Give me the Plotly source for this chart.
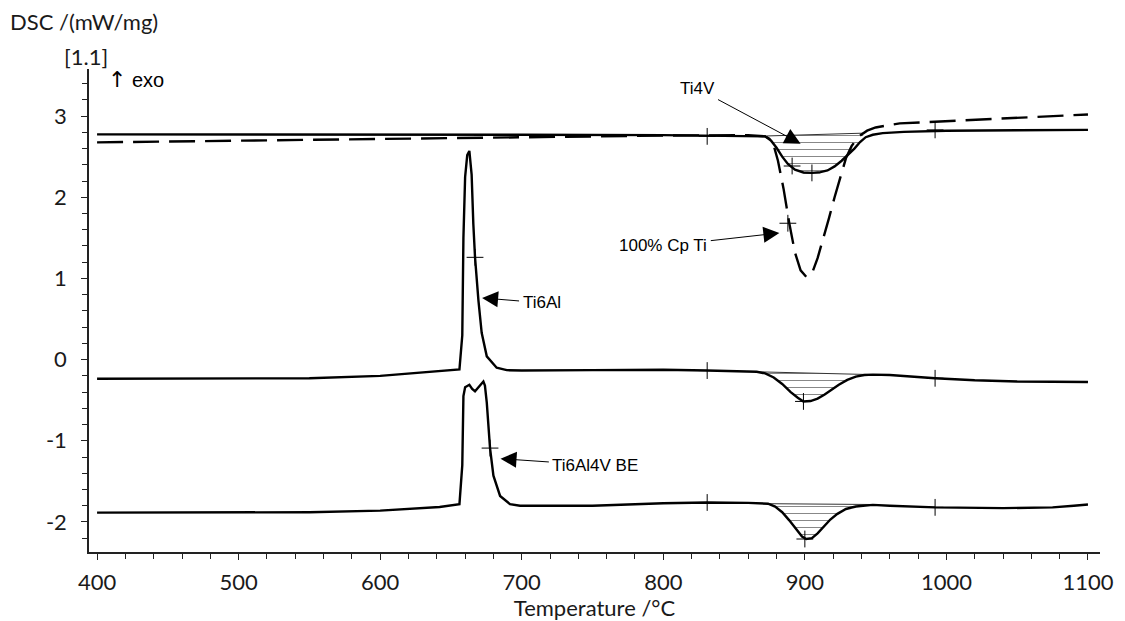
import plotly.graph_objects as go

# ---------------- data ----------------
# Ti4V (solid, top)
ti4v_T = [400, 500, 600, 700, 800, 850, 865, 872, 876, 880, 884, 888, 893, 899, 905, 911, 916, 921, 926, 931, 935, 939, 943, 948, 955, 970, 1000, 1050, 1100]
ti4v_Y = [2.775, 2.775, 2.772, 2.77, 2.765, 2.76, 2.758, 2.75, 2.70, 2.61, 2.50, 2.41, 2.34, 2.305, 2.30, 2.31, 2.33, 2.38, 2.45, 2.53, 2.60, 2.68, 2.74, 2.77, 2.79, 2.805, 2.82, 2.825, 2.83]

# 100% Cp Ti (dashed)
cpti_T = [400, 550, 700, 800, 860, 872, 877, 881, 885, 889, 893, 897, 901, 905, 909, 913, 917, 921, 925, 929, 933, 938, 944, 950, 967, 990, 1026, 1073, 1100]
cpti_Y = [2.676, 2.71, 2.74, 2.76, 2.765, 2.75, 2.70, 2.45, 2.10, 1.68, 1.32, 1.10, 1.02, 1.06, 1.25, 1.48, 1.74, 2.00, 2.25, 2.48, 2.63, 2.75, 2.82, 2.86, 2.91, 2.93, 2.96, 3.00, 3.02]

# Ti6Al (solid, middle)
ti6al_T = [400, 550, 600, 642, 656, 658, 658.8, 660, 661.5, 663, 664.6, 665.8, 667, 669.4, 671.7, 675.3, 682.3, 689.4, 700, 750, 800, 831, 860, 866, 872, 878, 884, 890, 895, 899, 904, 909, 914, 919, 924, 930, 936, 942, 948, 960, 992, 1020, 1050, 1100]
ti6al_Y = [-0.235, -0.23, -0.20, -0.145, -0.12, 0.3, 1.5, 2.25, 2.52, 2.57, 2.28, 1.67, 1.26, 0.73, 0.33, 0.04, -0.10, -0.13, -0.135, -0.13, -0.125, -0.135, -0.148, -0.15, -0.17, -0.22, -0.30, -0.40, -0.47, -0.515, -0.51, -0.48, -0.43, -0.37, -0.31, -0.25, -0.21, -0.19, -0.185, -0.19, -0.23, -0.255, -0.27, -0.275]

# Ti6Al4V BE (solid, bottom)
ti64_T = [400, 550, 600, 642, 656, 658, 658.8, 660, 663, 665, 667, 670, 672.9, 674, 675.3, 677.6, 680, 684.7, 691.7, 698.8, 750, 800, 831, 860, 874, 879, 884, 889, 894, 898, 901, 905, 909, 913, 918, 923, 929, 936, 948, 960, 992, 1040, 1075, 1090, 1100]
ti64_Y = [-1.885, -1.88, -1.86, -1.815, -1.78, -1.3, -0.45, -0.34, -0.31, -0.36, -0.39, -0.33, -0.27, -0.32, -0.53, -1.09, -1.43, -1.68, -1.78, -1.80, -1.80, -1.77, -1.76, -1.765, -1.775, -1.81, -1.88, -1.98, -2.09, -2.18, -2.21, -2.20, -2.14, -2.06, -1.97, -1.90, -1.84, -1.81, -1.79, -1.80, -1.82, -1.83, -1.82, -1.80, -1.785]

# integration baselines (start T, end T, start Y, end Y)
ti4v_base = [873, 942, 2.755, 2.79]
ti6al_base = [866, 948, -0.15, -0.185]
ti64_base = [874, 948, -1.775, -1.785]

# "+" evaluation markers
mark_T = [831, 891, 905, 992, 888, 667, 831, 899, 992, 677.6, 831, 900, 992]
mark_Y = [2.75, 2.385, 2.30, 2.83, 1.68, 1.26, -0.135, -0.515, -0.23, -1.09, -1.76, -2.21, -1.82]

# annotation labels: text, text position (T, Y), arrow tip (T, Y)
labels = ["Ti4V", "100% Cp Ti", "Ti6Al", "Ti6Al4V BE"]
label_T = [824, 800, 714, 752]
label_Y = [3.34, 1.40, 0.70, -1.30]
tip_T = [897, 882, 672, 685]
tip_Y = [2.66, 1.56, 0.76, -1.22]

x_ticks = [400, 500, 600, 700, 800, 900, 1000, 1100]
y_ticks = [-2, -1, 0, 1, 2, 3]
y_ticktext = ["-2", "-1", "0", "1", "2", "3"]

# ---------------- figure ----------------
fig = go.Figure()

hatch = dict(shape="-", size=7, solidity=0.15, fgcolor="#111111", bgcolor="rgba(255,255,255,0)")

def add_hatch(T, Y, base):
    t0, t1, b0, b1 = base
    fig.add_trace(go.Scatter(x=[t0, t1], y=[b0, b1], mode="lines",
                             line=dict(color="#333333", width=1), showlegend=False, hoverinfo="skip"))
    segT = [t for t in T if t0 <= t <= t1]
    segY = [y for t, y in zip(T, Y) if t0 <= t <= t1]
    fig.add_trace(go.Scatter(x=[t0] + segT + [t1], y=[b0] + segY + [b1], mode="lines",
                             line=dict(width=0, color="rgba(0,0,0,0)"), fill="tonexty",
                             fillcolor="rgba(0,0,0,0)", fillpattern=hatch,
                             showlegend=False, hoverinfo="skip"))

add_hatch(ti4v_T, ti4v_Y, ti4v_base)
add_hatch(ti6al_T, ti6al_Y, ti6al_base)
add_hatch(ti64_T, ti64_Y, ti64_base)

lw = 2.4
fig.add_trace(go.Scatter(x=cpti_T, y=cpti_Y, mode="lines", name="100% Cp Ti",
                         line=dict(color="black", width=lw, dash="26px,10px")))
fig.add_trace(go.Scatter(x=ti4v_T, y=ti4v_Y, mode="lines", name="Ti4V",
                         line=dict(color="black", width=lw)))
fig.add_trace(go.Scatter(x=ti6al_T, y=ti6al_Y, mode="lines", name="Ti6Al",
                         line=dict(color="black", width=lw)))
fig.add_trace(go.Scatter(x=ti64_T, y=ti64_Y, mode="lines", name="Ti6Al4V BE",
                         line=dict(color="black", width=lw)))
fig.add_trace(go.Scatter(x=mark_T, y=mark_Y, mode="markers",
                         marker=dict(symbol="cross-thin", size=12, line=dict(color="black", width=1)),
                         showlegend=False, hoverinfo="skip"))

for txt, tx, ty, px, py in zip(labels, label_T, label_Y, tip_T, tip_Y):
    fig.add_annotation(x=px, y=py, ax=tx, ay=ty, axref="x", ayref="y", xref="x", yref="y",
                       text=txt, showarrow=True, arrowhead=2, arrowsize=3.2, arrowwidth=1,
                       arrowcolor="black", standoff=0, startstandoff=2,
                       font=dict(family="Liberation Sans", size=17, color="black"))

tickfont = dict(family="Lato", size=22, color="#1a1a1a")

fig.add_annotation(xref="paper", yref="paper", x=-0.080, y=1.099, xanchor="left", yanchor="middle",
                   text="DSC /(mW/mg)", showarrow=False, font=tickfont)
fig.add_annotation(xref="paper", yref="paper", x=0.021, y=1.025, xanchor="right", yanchor="middle",
                   text="[1.1]", showarrow=False, font=tickfont)
fig.add_annotation(xref="paper", yref="paper", x=0.017, y=0.979, xanchor="left", yanchor="middle",
                   text="<span style='font-family:DejaVu Sans;font-size:22px'>↑</span> exo", showarrow=False,
                   font=dict(family="Liberation Sans", size=20, color="black"))

fig.update_layout(
    width=1125, height=621,
    margin=dict(l=89, r=25, t=69, b=69, autoexpand=False),
    paper_bgcolor="white", plot_bgcolor="white",
    showlegend=False,
    xaxis=dict(range=[394.3, 1108.5], tickvals=x_ticks, ticks="outside", ticklen=6, tickwidth=1.3,
               tickcolor="#222", showline=True, linecolor="#222", linewidth=1.5, showgrid=False,
               zeroline=False, tickfont=tickfont, ticklabelstandoff=4, automargin=False,
               minor=dict(dtick=20, ticks="outside", ticklen=5, tickwidth=1, tickcolor="#222"),
               title=dict(text="Temperature /°C", font=tickfont, standoff=6)),
    yaxis=dict(range=[-2.37, 3.58], tickvals=y_ticks, ticktext=y_ticktext, ticks="outside", ticklen=6,
               tickwidth=1.3, tickcolor="#222", showline=True, linecolor="#222", linewidth=1.5,
               showgrid=False, zeroline=False, tickfont=tickfont, ticklabelstandoff=10, automargin=False,
               minor=dict(dtick=0.2, ticks="outside", ticklen=5, tickwidth=1, tickcolor="#222")),
)

fig.write_html("out.html")
